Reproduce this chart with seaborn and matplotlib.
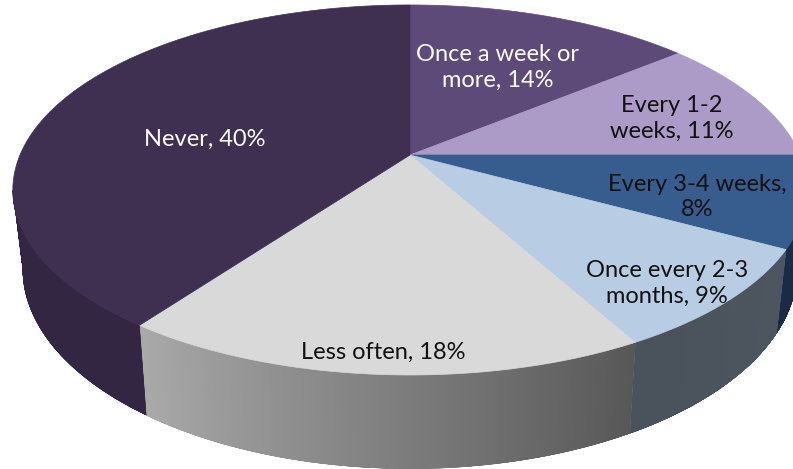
import numpy as np
import matplotlib
matplotlib.use("Agg")
import matplotlib.pyplot as plt
from matplotlib.patches import Polygon
from matplotlib.colors import to_rgb
import seaborn as sns

# Survey answers, clockwise from 12 o'clock
categories = ["Once a week or more", "Every 1-2 weeks", "Every 3-4 weeks",
              "Once every 2-3 months", "Less often", "Never"]
shares = [14, 11, 8, 9, 18, 40]
line_break_after = ["Once a week or", "Every 1-2", "Every 3-4 weeks,",
                    "Once every 2-3", None, None]

top_colors = ["#5E4A78", "#AB9BC6", "#375D8F", "#B8CCE4", "#D9D9D9", "#3F3052"]
text_colors = ["white", "#111111", "#111111", "#111111", "#111111", "white"]

sns.set_theme(style="white")
plt.rcParams["font.family"] = ["Lato", "DejaVu Sans"]

W, H_FIG = 793, 469
fig = plt.figure(figsize=(W / 100, H_FIG / 100), dpi=100)
ax = fig.add_axes([0, 0, 1, 1])
ax.set_xlim(0, W)
ax.set_ylim(H_FIG, 0)
ax.axis("off")

# Simple perspective view of a tilted disc
CX, CY = 410.0, 155.0
SX, SY = 390.0, 178.4
K = 0.189
DEPTH = 76.0
SHRINK = 0.975  # bottom rim sits a little farther from the camera


def rim(theta, bottom=False):
    x = np.sin(theta)
    d = np.cos(theta)
    w = 1 + K * d
    px = CX + SX * x / w
    py = CY - SY * d / w
    if bottom:
        px = CX + (px - CX) * SHRINK
        py = py + DEPTH / w
    return px, py


def shade(theta):
    deg = np.degrees(theta)
    return np.interp(deg, [80, 120, 151, 216, 240, 290],
                     [0.48, 0.42, 0.40, 0.78, 0.80, 0.80])


def wall_shade(i, theta):
    base = np.array(to_rgb(top_colors[i]))
    if categories[i] == "Never":
        return base * 0.80
    if categories[i] == "Every 3-4 weeks":
        return base * np.array([0.50, 0.46, 0.48])
    return np.clip(base * shade(theta), 0, 1)


fractions = np.array(shares, dtype=float) / np.sum(shares)
edges = np.concatenate([[0.0], np.cumsum(fractions)]) * 2 * np.pi

# side walls (only the part facing the viewer)
for i in range(len(shares)):
    t = np.linspace(edges[i], edges[i + 1], 400)
    x, _ = rim(t)
    facing = np.zeros_like(t, dtype=bool)
    facing[:-1] = np.diff(x) < 0
    facing[1:] |= facing[:-1]
    t = t[facing]
    if len(t) < 2:
        continue
    tx, ty = rim(t)
    bx, by = rim(t, True)
    outline = list(zip(tx, ty)) + list(zip(bx[::-1], by[::-1]))
    mid = wall_shade(i, t[len(t) // 2])
    shell = Polygon(outline, closed=True, facecolor=mid, edgecolor=mid,
                    linewidth=0.4)
    ax.add_patch(shell)
    # shading strips, clipped to the wall outline
    for j in range(len(t) - 1):
        c = wall_shade(i, 0.5 * (t[j] + t[j + 1]))
        q = Polygon([(tx[j], ty[j] - 1), (tx[j + 1], ty[j + 1] - 1),
                     (bx[j + 1], by[j + 1] + 1), (bx[j], by[j] + 1)],
                    closed=True, facecolor=c, edgecolor=c, linewidth=1.0,
                    antialiased=False)
        ax.add_patch(q)
        q.set_clip_path(shell)

# top faces
for i in range(len(shares)):
    t = np.linspace(edges[i], edges[i + 1], 300)
    px, py = rim(t)
    pts = [(CX, CY)] + list(zip(px, py))
    ax.add_patch(Polygon(pts, closed=True, facecolor=top_colors[i],
                         edgecolor=top_colors[i], linewidth=0.5))

# labels
label_pos = [(498, 67), (672, 118), (697, 197), (667, 283), (383, 352), (205, 139)]
for i, (cat, v) in enumerate(zip(categories, shares)):
    text = f"{cat}, {v}%"
    if line_break_after[i]:
        brk = line_break_after[i]
        text = text.replace(brk + " ", brk + "\n", 1)
    ax.text(label_pos[i][0], label_pos[i][1], text, ha="center", va="center",
            color=text_colors[i], fontsize=17, linespacing=1.28)

fig.savefig("out.png", dpi=100, facecolor="white")
